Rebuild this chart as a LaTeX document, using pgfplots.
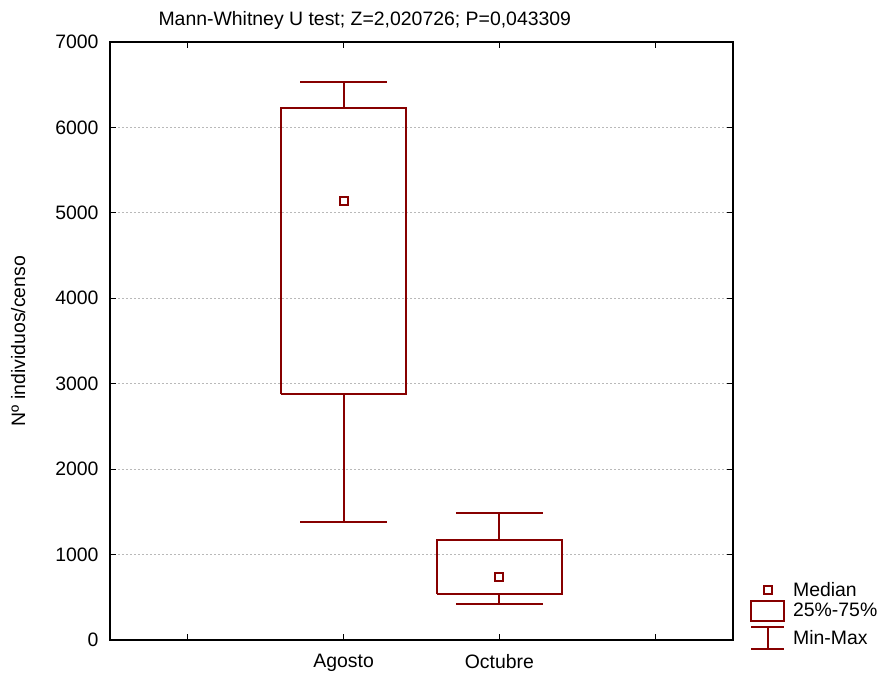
\documentclass[border=0pt]{standalone}
\usepackage{fontspec}
\setmainfont{Liberation Sans}
\usepackage{pgfplots}
\pgfplotsset{compat=1.18}
\definecolor{dred}{RGB}{135,0,0}
\definecolor{gridc}{RGB}{185,185,185}
\begin{document}
\begin{tikzpicture}
\path[use as bounding box] (-110bp,-36bp) rectangle (770bp,640bp);
\begin{axis}[
  at={(0,0)}, anchor=south west,
  scale only axis, width=623bp, height=598bp,
  xmin=-0.5, xmax=3.5, ymin=0, ymax=7000,
  xtick={0,1,2,3}, xticklabels={{},Agosto,Octubre,{}},
  ytick={0,1000,2000,3000,4000,5000,6000,7000},
  scaled y ticks=false,
  /pgf/number format/assume math mode=true,
  /pgf/number format/1000 sep={},
  tick align=inside,
  major tick length=6bp,
  tick style={black, line width=1bp},
  axis line style={black, line width=1.8bp},
  ymajorgrids,
  grid style={gridc, dash pattern=on 2bp off 2bp, line width=0.8bp},
  ticklabel style={font=\fontsize{19.5}{22}\selectfont},
  xticklabel style={yshift=-11bp},
  yticklabel style={xshift=-8bp},
  ylabel={Nº individuos/censo},
  ylabel style={font=\fontsize{19.5}{22}\selectfont, yshift=23bp},
  title={Mann-Whitney U test; Z=2,020726; P=0,043309},
  title style={font=\fontsize{19.5}{22}\selectfont, at={(0.409,1)}, anchor=south, yshift=3bp},
  legend style={at={(1,0)}, anchor=south west, xshift=15bp, yshift=-16bp, draw=none, fill=none,
    font=\fontsize{19.5}{22}\selectfont, row sep=0bp, inner sep=2bp},
  legend cell align=left,
  every axis plot/.append style={line width=1.8bp, dred, line join=miter},
]
% Agosto: box (Q1-Q3)
\addplot[forget plot, mark=none] coordinates {(0.6,2876) (1.4,2876) (1.4,6231) (0.6,6231) (0.6,2876)};
% Agosto whiskers
\addplot[forget plot, mark=none] coordinates {(1,6231) (1,6532)};
\addplot[forget plot, mark=none] coordinates {(0.72,6532) (1.28,6532)};
\addplot[forget plot, mark=none] coordinates {(1,2876) (1,1378)};
\addplot[forget plot, mark=none] coordinates {(0.72,1378) (1.28,1378)};
% Octubre: box
\addplot[forget plot, mark=none] coordinates {(1.6,542) (2.4,542) (2.4,1171) (1.6,1171) (1.6,542)};
\addplot[forget plot, mark=none] coordinates {(2,1171) (2,1483)};
\addplot[forget plot, mark=none] coordinates {(1.72,1483) (2.28,1483)};
\addplot[forget plot, mark=none] coordinates {(2,542) (2,418)};
\addplot[forget plot, mark=none] coordinates {(1.72,418) (2.28,418)};
% medians
\addplot[forget plot, only marks, mark=square, mark size=4bp] coordinates {(1,5135) (2,741)};
\addlegendimage{legend image code/.code={\path[draw=none,fill=none] (0bp,-10bp) rectangle (40bp,10bp); \draw[dred, line width=1.8bp] (12.5bp,-4bp) rectangle (20.5bp,4bp);}}
\addlegendentry{Median}
\addlegendimage{legend image code/.code={\path[draw=none,fill=none] (0bp,-10bp) rectangle (40bp,10bp); \draw[dred, line width=1.8bp] (0bp,-10bp) rectangle (33bp,10bp);}}
\addlegendentry{25\%-75\%}
\addlegendimage{legend image code/.code={\path[draw=none,fill=none] (0bp,-16bp) rectangle (40bp,16bp); \draw[dred, line width=1.8bp] (0bp,11bp)--(33bp,11bp) (16.5bp,11bp)--(16.5bp,-11bp) (0bp,-11bp)--(33bp,-11bp);}}
\addlegendentry{Min-Max}
\end{axis}
\end{tikzpicture}
\end{document}
